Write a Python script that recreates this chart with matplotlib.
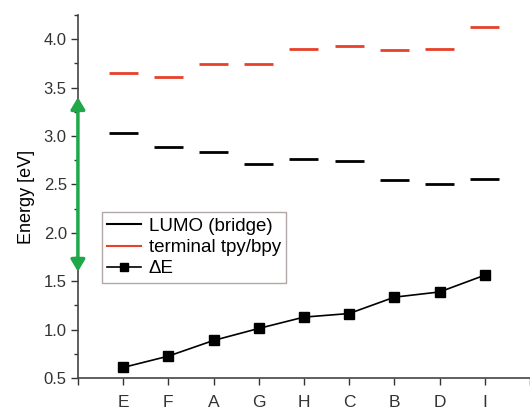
import matplotlib
matplotlib.use("Agg")
import matplotlib.pyplot as plt
from matplotlib.ticker import MultipleLocator
from matplotlib.lines import Line2D

plt.rcParams['font.family'] = ['Liberation Sans', 'DejaVu Sans']

categories = ['E', 'F', 'A', 'G', 'H', 'C', 'B', 'D', 'I']
lumo = [3.03, 2.885, 2.84, 2.716, 2.758, 2.747, 2.55, 2.505, 2.56]
terminal = [3.646, 3.61, 3.74, 3.74, 3.897, 3.93, 3.886, 3.897, 4.13]
delta_e = [0.61, 0.727, 0.889, 1.013, 1.13, 1.167, 1.336, 1.39, 1.563]
arrow_range = [3.40, 1.60]

fig = plt.figure(figsize=(5.30, 4.11), dpi=100)
ax = fig.add_axes([0.147, 0.080, 0.853, 0.8835])

xs = list(range(1, len(categories) + 1))
hw = 0.32
ax.hlines(lumo, [x - hw for x in xs], [x + hw for x in xs], colors='black', lw=2.0)
ax.hlines(terminal, [x - hw for x in xs], [x + hw for x in xs], colors='#e8412b', lw=2.0)
ax.plot(xs, delta_e, color='black', lw=1.2, marker='s', ms=6.5, mfc='black', mec='black')

ax.annotate('', xy=(0, arrow_range[0]), xytext=(0, arrow_range[1]),
            arrowprops=dict(arrowstyle='<|-|>,head_length=0.5,head_width=0.3',
                            color='#1fa84a', lw=2.5,
                            mutation_scale=14, shrinkA=0, shrinkB=0),
            annotation_clip=False, zorder=5)

ax.set_xlim(0, 10)
ax.set_ylim(0.5, 4.25)
ax.set_xticks(range(0, 11))
ax.set_xticklabels([''] + categories + [''])
ax.yaxis.set_minor_locator(MultipleLocator(0.25))
ax.set_yticks([0.5, 1.0, 1.5, 2.0, 2.5, 3.0, 3.5, 4.0])
ax.set_yticklabels(['0.5', '1.0', '1.5', '2.0', '2.5', '3.0', '3.5', '4.0'])
ax.tick_params(axis='both', which='major', direction='out', length=5, width=1.0,
               labelsize=12, colors='#333333')
ax.tick_params(axis='y', which='minor', direction='out', length=3, width=1.0, colors='#333333')
ax.tick_params(axis='x', labelsize=12.5, pad=7)
ax.tick_params(axis='y', pad=3)
for s in ['top', 'right']:
    ax.spines[s].set_visible(False)
for s in ['left', 'bottom']:
    ax.spines[s].set_color('#444444')
    ax.spines[s].set_linewidth(1.2)

ax.set_ylabel('Energy [eV]', fontsize=13, labelpad=6)

handles = [Line2D([0], [0], color='black', lw=1.5),
           Line2D([0], [0], color='#e8412b', lw=1.5),
           Line2D([0], [0], color='black', lw=1.2, marker='s', ms=5.5)]
leg = ax.legend(handles, ['LUMO (bridge)', 'terminal tpy/bpy', '\u0394E'],
                loc='upper left', bbox_to_anchor=(0.053, 0.457), fontsize=13.5,
                frameon=True, fancybox=False, handlelength=1.8, handletextpad=0.4,
                labelspacing=0.22, borderpad=0.3, borderaxespad=0)
leg.get_frame().set_edgecolor('#a09090')
leg.get_frame().set_linewidth(1.0)

fig.savefig('out.png', dpi=100)
